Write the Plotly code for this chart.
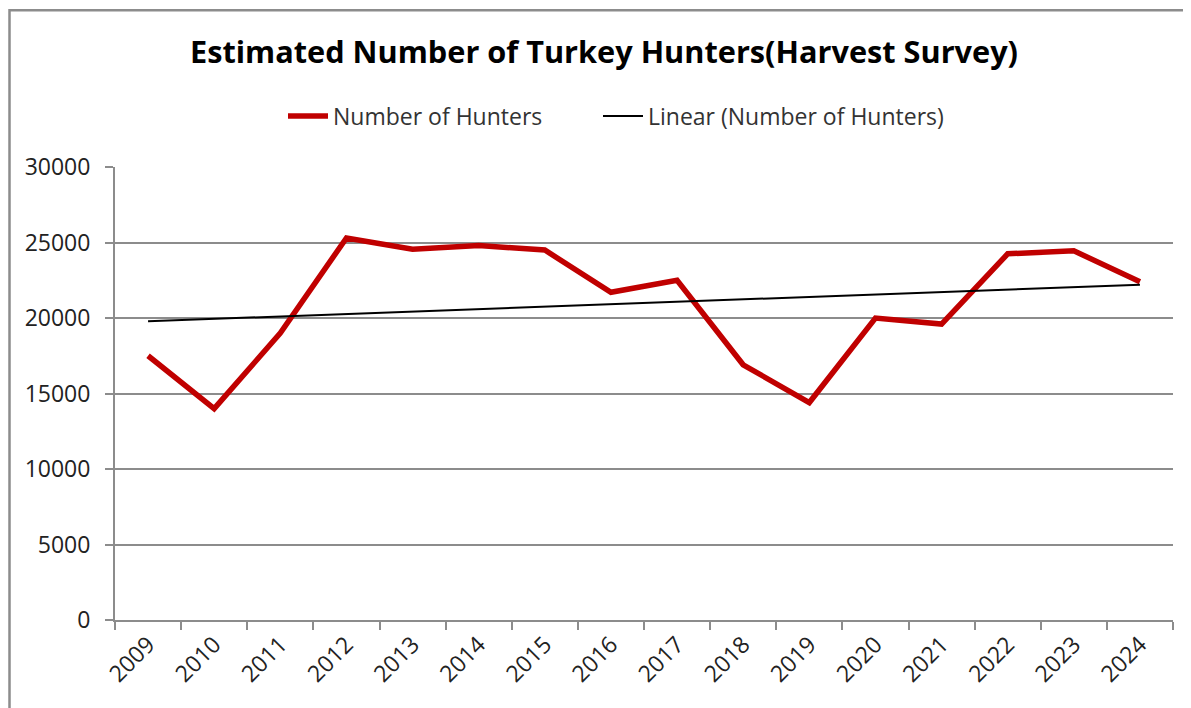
import numpy as np
import plotly.graph_objects as go

years = ["2009", "2010", "2011", "2012", "2013", "2014", "2015", "2016",
         "2017", "2018", "2019", "2020", "2021", "2022", "2023", "2024"]
hunters = [17500, 14000, 19000, 25300, 24550, 24800, 24500, 21700,
           22500, 16900, 14400, 20000, 19600, 24250, 24450, 22400]
y_ticks = [0, 5000, 10000, 15000, 20000, 25000, 30000]

# Linear trendline (least squares fit over the series, as in the original "Linear" trendline)
idx = np.arange(len(hunters))
slope, intercept = np.polyfit(idx, hunters, 1)
trend = list(slope * idx + intercept)

# page has an 8px body margin, so the figure is offset by (8, 8)
OFF = 8
W, H = 1191 - OFF, 708 - OFF
L, R, T, B = 115 - OFF, 18, 166.6 - OFF, 87.5
pw, ph = W - L - R, H - T - B

fig = go.Figure()
fig.add_trace(go.Scatter(
    x=years, y=hunters, mode="lines", name="Number of Hunters",
    line=dict(color="#C00000", width=5.5), legend="legend",
))
fig.add_trace(go.Scatter(
    x=years, y=trend, mode="lines", name="Linear (Number of Hunters)",
    line=dict(color="#000000", width=2), legend="legend2",
))

grid_col = "#8C8C8C"
legend_common = dict(
    orientation="h", xanchor="left", xref="container",
    yref="container", y=1 - (116 - OFF) / H, yanchor="middle",
    font=dict(size=23, color="#333333", family="Open Sans, sans-serif"),
    itemwidth=40, bgcolor="rgba(0,0,0,0)",
)
fig.update_layout(
    width=W, height=H,
    margin=dict(l=L, r=R, t=T, b=B, pad=0),
    paper_bgcolor="white", plot_bgcolor="white",
    font=dict(family="Open Sans, sans-serif", color="#333333", size=23),
    title=dict(
        text="<b>Estimated Number of Turkey Hunters(Harvest Survey)</b>",
        x=(604 - OFF) / W, xref="container", xanchor="center",
        y=1 - (52 - OFF) / H, yref="container", yanchor="middle",
        font=dict(family="Open Sans, sans-serif", size=30.7, color="#000000"),
    ),
    showlegend=True,
    legend=dict(x=(283 - OFF) / W, **legend_common),
    legend2=dict(x=(598 - OFF) / W, **legend_common),
    xaxis=dict(
        type="category", range=[-0.5, len(years) - 0.5],
        showgrid=False, showline=True, linecolor=grid_col, linewidth=2,
        ticks="outside", tickson="boundaries", ticklen=8, tickwidth=2, tickcolor=grid_col,
        tickangle=-45, tickfont=dict(size=23, color="#222222"),
        zeroline=False,
    ),
    yaxis=dict(
        range=[0, 30000], tickvals=y_ticks, ticktext=[str(v) for v in y_ticks],
        showgrid=True, gridcolor=grid_col, gridwidth=2,
        showline=True, linecolor=grid_col, linewidth=2,
        ticks="outside", ticklen=8, tickwidth=2, tickcolor=grid_col,
        ticklabelstandoff=10,
        tickfont=dict(size=23, color="#222222"),
        zeroline=False,
    ),
    shapes=[dict(
        type="rect", xref="paper", yref="paper",
        x0=(1.5 - L) / pw, x1=(W + 60 - L) / pw,
        y0=-1.0, y1=(H - B - 1.5) / ph,
        line=dict(color="#8C8C8C", width=2.5), fillcolor="rgba(0,0,0,0)", layer="below",
    )],
)

fig.write_html("out.html")
